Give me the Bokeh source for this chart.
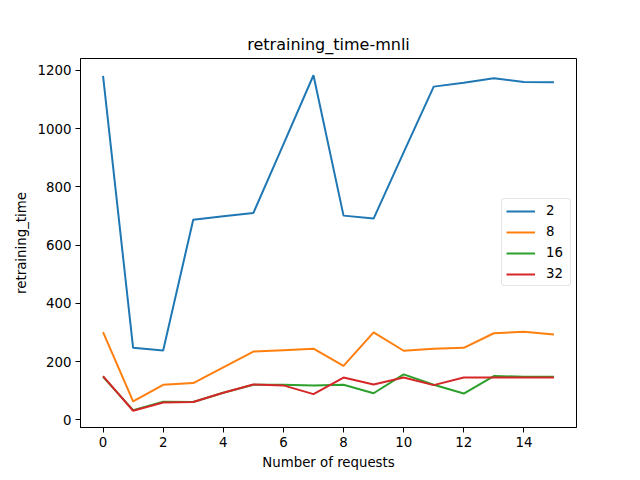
from bokeh.plotting import figure
from bokeh.models import Range1d, FixedTicker, Legend, LegendItem
from bokeh.embed import file_html
from bokeh.resources import INLINE

requests = list(range(16))
series_labels = ["2", "8", "16", "32"]
series_2 = [1181, 247, 238, 687, 699, 710, 946, 1183, 701, 691, 918, 1144, 1157, 1173, 1160, 1159]
series_8 = [301, 63, 120, 126, 180, 234, 239, 244, 185, 300, 237, 244, 247, 297, 302, 293]
series_16 = [147, 33, 62, 61, 93, 120, 120, 118, 120, 91, 156, 120, 90, 150, 148, 148]
series_32 = [150, 31, 59, 61, 93, 121, 118, 88, 145, 121, 145, 119, 145, 145, 145, 145]
colors = ["#1f77b4", "#ff7f0e", "#2ca02c", "#d62728"]
x_ticks = [0, 2, 4, 6, 8, 10, 12, 14]
y_ticks = [0, 200, 400, 600, 800, 1000, 1200]

FONT = "DejaVu Sans"

p = figure(width=624, height=464, output_backend="svg", toolbar_location=None,
           title="retraining_time-mnli",
           x_range=Range1d(-0.75, 15.75), y_range=Range1d(-26.6, 1240.6),
           min_border_left=80, min_border_right=48, min_border_top=58, min_border_bottom=37,
           frame_width=496, frame_height=369)

p.title.align = "center"
p.title.text_font = FONT
p.title.text_font_size = "16px"
p.title.text_font_style = "normal"
p.title.text_color = "black"

p.xgrid.visible = False
p.ygrid.visible = False
p.outline_line_color = "black"
p.outline_line_alpha = 1.0
p.outline_line_width = 1

for ax in (p.xaxis[0], p.yaxis[0]):
    ax.major_label_text_font = FONT
    ax.major_label_text_font_size = "13.33px"
    ax.major_label_text_color = "black"
    ax.axis_label_text_font = FONT
    ax.axis_label_text_font_size = "13.33px"
    ax.axis_label_text_font_style = "normal"
    ax.axis_label_text_color = "black"
    ax.major_tick_in = 0
    ax.major_tick_out = 5
    ax.minor_tick_in = 0
    ax.minor_tick_out = 0
    ax.axis_line_color = "black"
    ax.major_tick_line_color = "black"

p.xaxis.ticker = FixedTicker(ticks=x_ticks)
p.yaxis.ticker = FixedTicker(ticks=y_ticks)
p.xaxis.axis_label = "Number of requests"
p.yaxis.axis_label = "retraining_time"
p.xaxis.major_label_standoff = 4
p.yaxis.major_label_standoff = 4
p.yaxis.axis_label_standoff = 6
p.xaxis.axis_label_standoff = 5

items = []
for lab, ys, c in zip(series_labels, [series_2, series_8, series_16, series_32], colors):
    r = p.line(requests, ys, line_color=c, line_width=2)
    items.append(LegendItem(label=lab, renderers=[r]))

legend = Legend(items=items, location=(421, 141))
legend.label_text_font = FONT
legend.label_text_font_size = "13.33px"
legend.label_text_color = "black"
legend.glyph_width = 29
legend.glyph_height = 14
legend.label_height = 14
legend.label_standoff = 11
legend.spacing = 6
legend.padding = 4
legend.margin = 0
legend.border_line_color = "#cccccc"
legend.border_line_width = 1
legend.border_radius = 3
legend.background_fill_alpha = 0.8
p.add_layout(legend, "center")

open("out.html", "w").write(file_html(p, INLINE))
